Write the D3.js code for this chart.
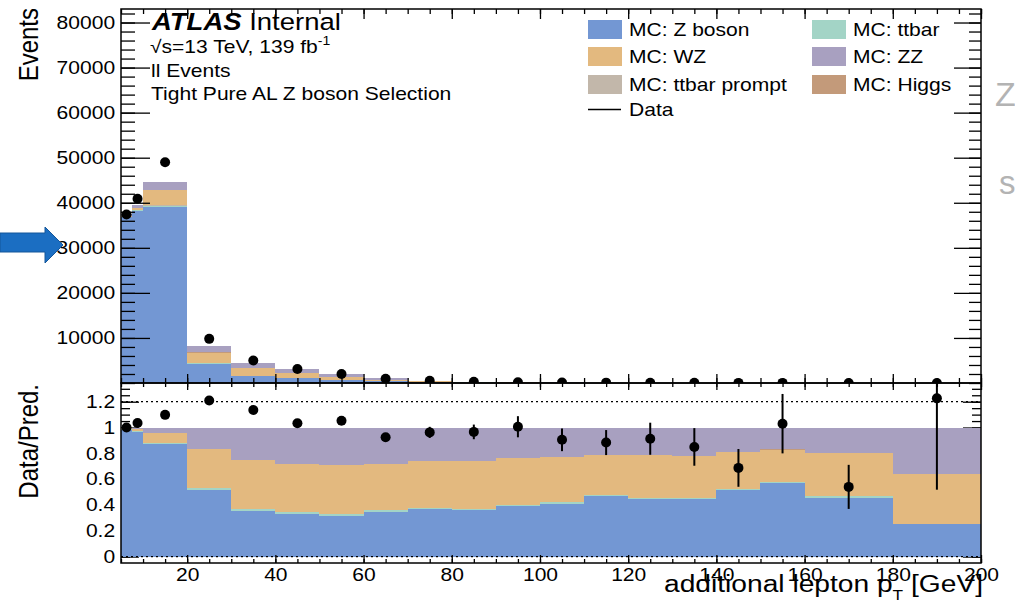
<!DOCTYPE html>
<html>
<head>
<meta charset="utf-8">
<script src="https://cdn.jsdelivr.net/npm/d3@7"></script>
<style>
body{margin:0;background:#fff}
svg{display:block}
text{font-family:"Liberation Sans",Arial,sans-serif}
</style>
</head>
<body>
<div id="chart"></div>
<script>
// bin edges, GeV
var binEdges = [5,7.5,10,20,30,40,50,60,70,80,90,100,110,120,130,140,150,160,180,200]

// MC predictions per bin (events)
var zBoson      = [36839,38118,39025,4212,1562,999,604,346,192,108.6,58.5,48,44.2,26.3,17.8,16.5,11,8.45,0.61]
var ttbar       = [75,198,357,122,57,36,23,12,5.2,3,1.5,1.2,0.9,0.6,0.4,0.3,0.2,0.19,0.015]
var ttbarPrompt = [10,10,12,4,2,1.5,1,0.5,0.2,0.1,0.05,0.04,0.03,0.02,0.01,0.01,0.01,0.01,0.001]
var wz          = [224,592,3434,2430,1681,1125,722,362,187,110.4,54.8,41,29.1,19.5,13,9.1,4.9,6.16,0.94]
var higgs       = [5,5,8,3,1.5,1,0.6,0.3,0.2,0.1,0.05,0.04,0.03,0.02,0.01,0.01,0.01,0.01,0.001]
var zz          = [262,592,1784,1336,1100,840,551,280,135,78,35.2,26.9,19.7,12.7,8.8,6.1,3.3,3.7,0.88]

// observed data per bin
var dataCounts  = [37400,40900,49000,9800,5000,3100,2000,925,500,290,151,106,83,54,34,22,20,10,3]

var yTicksTop   = [10000,20000,30000,40000,50000,60000,70000,80000]
var yTicksRatio = [0,0.2,0.4,0.6,0.8,1,1.2]
var xTicks      = [20,40,60,80,100,120,140,160,180,200]

var procKeys   = ["z","tt","ttp","wz","h","zz"]
var procNames  = {z:"MC: Z boson",tt:"MC: ttbar",ttp:"MC: ttbar prompt",wz:"MC: WZ",h:"MC: Higgs",zz:"MC: ZZ"}
var procColors = {z:"#7397d3",tt:"#a3d4c6",ttp:"#c2b7aa",wz:"#e3b97f",h:"#c39a7a",zz:"#a8a0c0"}

var SX = 1.17   // the picture is a bit stretched sideways
var W = 1015, H = 603
var left = 121, right = 981
var topY0 = 9, topY1 = 383, ratY0 = 383, ratY1 = 563

var rows = binEdges.slice(0,-1).map(function(lo,i){
	return {i:i, lo:lo, hi:binEdges[i+1], z:zBoson[i], tt:ttbar[i], ttp:ttbarPrompt[i],
		wz:wz[i], h:higgs[i], zz:zz[i], data:dataCounts[i]}
})
rows.forEach(function(r){ r.total = procKeys.reduce(function(s,k){return s+r[k]},0) })

var svg = d3.select("#chart").append("svg").attr("width",W).attr("height",H)

var xScale = d3.scaleLinear().domain([5,200]).range([left,right])
var yTop = d3.scaleLinear().domain([0,83000]).range([topY1,topY0])
var yRat = d3.scaleLinear().domain([-0.05,1.345]).range([ratY1,ratY0])

var defs = svg.append("defs")
defs.append("clipPath").attr("id","clipTop").append("rect")
	.attr("x",left).attr("y",topY0).attr("width",right-left).attr("height",topY1-topY0)
defs.append("clipPath").attr("id","clipRat").append("rect")
	.attr("x",left).attr("y",ratY0).attr("width",right-left).attr("height",ratY1-ratY0)

function stretchText(sel){
	sel.attr("transform","scale("+SX+",1)").attr("font-size",18).attr("fill","#000")
		.attr("font-family","Liberation Sans, Arial, sans-serif")
}

// draw one set of ticks with a d3 axis, domain line removed
function tickSet(y, axis, vals, size, fmt){
	var g = svg.append("g").attr("transform", y)
	g.call(axis.tickValues(vals).tickSize(size).tickPadding(5).tickFormat(fmt || ""))
	g.select(".domain").remove()
	g.selectAll(".tick line").attr("stroke","#000").attr("stroke-width",1.3)
	g.selectAll("text").call(stretchText)
	return g
}

var xMinor = d3.range(5,201,5)
var fmtRatio = function(d){ return d3.format(".1f")(d).replace(/\.0$/,"") }

// ratio panel: left/right ticks go under the stack
tickSet("translate("+left+",0)", d3.axisLeft(yRat), d3.range(0,1.34,0.05), -9)
tickSet("translate("+left+",0)", d3.axisLeft(yRat), yTicksRatio, -18, fmtRatio)
tickSet("translate("+right+",0)", d3.axisRight(yRat), d3.range(0,1.34,0.05), -9)
tickSet("translate("+right+",0)", d3.axisRight(yRat), yTicksRatio, -18)

// ---- top panel stack
var stackTop = d3.stack().keys(procKeys)(rows)
var gTop = svg.append("g").attr("clip-path","url(#clipTop)")
stackTop.forEach(function(s){
	gTop.selectAll(null).data(s).enter().append("rect")
		.attr("x",function(d){return xScale(d.data.lo)})
		.attr("width",function(d){return xScale(d.data.hi)-xScale(d.data.lo)})
		.attr("y",function(d){return yTop(d[1])})
		.attr("height",function(d){return Math.max(0,yTop(d[0])-yTop(d[1]))})
		.attr("fill",procColors[s.key])
		.attr("shape-rendering","crispEdges")
})

// ---- ratio panel stack (fractions)
var stackRat = d3.stack().keys(procKeys).offset(d3.stackOffsetExpand)(rows)
var gRat = svg.append("g").attr("clip-path","url(#clipRat)")
stackRat.forEach(function(s){
	gRat.selectAll(null).data(s).enter().append("rect")
		.attr("x",function(d){return xScale(d.data.lo)})
		.attr("width",function(d){return xScale(d.data.hi)-xScale(d.data.lo)})
		.attr("y",function(d){return yRat(d[1])})
		.attr("height",function(d){return Math.max(0,yRat(d[0])-yRat(d[1]))})
		.attr("fill",procColors[s.key])
		.attr("shape-rendering","crispEdges")
})

// dotted reference lines
;[0,1.2].forEach(function(v){
	svg.append("line").attr("x1",left).attr("x2",right).attr("y1",yRat(v)).attr("y2",yRat(v))
		.attr("stroke","#000").attr("stroke-width",1.3).attr("stroke-dasharray","2,3")
})

// top panel ticks (drawn over hist)
tickSet("translate("+left+",0)", d3.axisLeft(yTop), d3.range(0,83001,2000), -14)
tickSet("translate("+left+",0)", d3.axisLeft(yTop), yTicksTop, -29, d3.format("d"))
tickSet("translate("+right+",0)", d3.axisRight(yTop), d3.range(0,83001,2000), -12)
tickSet("translate("+right+",0)", d3.axisRight(yTop), yTicksTop, -27)
tickSet("translate(0,"+topY0+")", d3.axisTop(xScale), xMinor, -5)
tickSet("translate(0,"+topY0+")", d3.axisTop(xScale), xTicks, -10)
tickSet("translate(0,"+topY1+")", d3.axisBottom(xScale), xMinor, -5)
tickSet("translate(0,"+topY1+")", d3.axisBottom(xScale), xTicks, -9)
tickSet("translate(0,"+ratY0+")", d3.axisTop(xScale), xMinor, -4)
tickSet("translate(0,"+ratY0+")", d3.axisTop(xScale), xTicks, -7)
tickSet("translate(0,"+ratY1+")", d3.axisBottom(xScale), xMinor, -4)
tickSet("translate(0,"+ratY1+")", d3.axisBottom(xScale), xTicks, -8, d3.format("d"))

// frames
svg.append("rect").attr("x",left).attr("y",topY0).attr("width",right-left).attr("height",topY1-topY0)
	.attr("fill","none").attr("stroke","#000").attr("stroke-width",1.5)
svg.append("rect").attr("x",left).attr("y",ratY0).attr("width",right-left).attr("height",ratY1-ratY0)
	.attr("fill","none").attr("stroke","#000").attr("stroke-width",1.5)

// ---- data points
function center(d){ return xScale((d.lo+d.hi)/2) }
var gDataTop = svg.append("g").attr("clip-path","url(#clipTop)")
gDataTop.selectAll("line").data(rows).enter().append("line")
	.attr("x1",center).attr("x2",center)
	.attr("y1",function(d){return yTop(d.data-Math.sqrt(d.data))})
	.attr("y2",function(d){return yTop(d.data+Math.sqrt(d.data))})
	.attr("stroke","#000").attr("stroke-width",2)
gDataTop.selectAll("circle").data(rows).enter().append("circle")
	.attr("cx",center).attr("cy",function(d){return yTop(d.data)}).attr("r",5).attr("fill","#000")

var gDataRat = svg.append("g").attr("clip-path","url(#clipRat)")
gDataRat.selectAll("line").data(rows).enter().append("line")
	.attr("x1",center).attr("x2",center)
	.attr("y1",function(d){return yRat((d.data-Math.sqrt(d.data))/d.total)})
	.attr("y2",function(d){return yRat((d.data+Math.sqrt(d.data))/d.total)})
	.attr("stroke","#000").attr("stroke-width",2)
gDataRat.selectAll("circle").data(rows).enter().append("circle")
	.attr("cx",center).attr("cy",function(d){return yRat(d.data/d.total)}).attr("r",5).attr("fill","#000")

// ---- labels
function label(x,y,size,str,anchor){
	return svg.append("text").attr("transform","translate("+x+","+y+") scale("+SX+",1)")
		.attr("font-size",size).attr("text-anchor",anchor||"start").attr("fill","#000").text(str)
}
label(152,30,23.5,"").call(function(t){
	t.append("tspan").attr("font-weight","bold").attr("font-style","italic").text("ATLAS")
	t.append("tspan").text(" Internal")
})
var sq = label(150,53,18,"\u221As=13 TeV, 139 fb")
sq.append("tspan").attr("font-size",12).attr("dy",-8).text("-1")
label(151,77,18,"ll Events")
label(151,100,18,"Tight Pure AL Z boson Selection")

// y titles
svg.append("text").attr("transform","translate(38,8) scale("+SX+",1) rotate(-90)")
	.attr("font-size",24).attr("text-anchor","end").text("Events")
svg.append("text").attr("transform","translate(38,384) scale("+SX+",1) rotate(-90)")
	.attr("font-size",24).attr("text-anchor","end").text("Data/Pred.")

// x title
var xt = svg.append("text").attr("transform","translate(983,592) scale(1.15,1)")
	.attr("font-size",24.5).attr("text-anchor","end")
xt.append("tspan").text("additional lepton p")
xt.append("tspan").attr("font-size",15).attr("dy",8).text("T")
xt.append("tspan").attr("dy",-8).text(" [GeV]")

// ---- legend
var legendCols = [[["z",20],["wz",47],["ttp",75]],[["tt",20],["zz",47],["h",75]]]
var legX = [588,812]
legendCols.forEach(function(col,c){
	col.forEach(function(e){
		svg.append("rect").attr("x",legX[c]).attr("y",e[1]).attr("width",34).attr("height",19)
			.attr("fill",procColors[e[0]])
		label(legX[c]+41,e[1]+16,18,procNames[e[0]])
	})
})
svg.append("line").attr("x1",588).attr("x2",621).attr("y1",109.5).attr("y2",109.5)
	.attr("stroke","#000").attr("stroke-width",1.5)
label(629,116,18,"Data")

// slide leftovers: arrow and grey letters
svg.append("path").attr("d","M0,233 L45,233 L45,227 L63,245 L45,263 L45,252 L0,252 Z")
	.attr("fill","#1b6ec2").attr("stroke","#15579a").attr("stroke-width",1)
svg.append("text").attr("x",995).attr("y",106).attr("font-size",34)
	.attr("font-family","Open Sans").attr("fill","#b3b3b3").text("Z")
svg.append("text").attr("x",999).attr("y",194).attr("font-size",33)
	.attr("font-family","Open Sans").attr("fill","#b3b3b3").text("s")
</script>
</body>
</html>
